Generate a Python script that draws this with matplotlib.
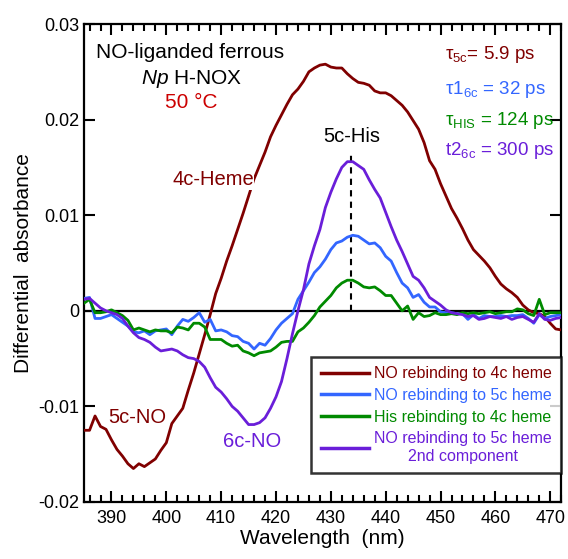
import matplotlib
matplotlib.use('Agg')
import matplotlib.pyplot as plt
import numpy as np
from matplotlib.ticker import MultipleLocator, FuncFormatter

plt.rcParams['font.family'] = 'Liberation Sans'
plt.rcParams['mathtext.fontset'] = 'custom'
plt.rcParams['mathtext.rm'] = 'Liberation Sans'
plt.rcParams['mathtext.it'] = 'Liberation Sans:italic'
plt.rcParams['axes.unicode_minus'] = False

# wavelength grid (nm), 1 nm steps
wl = np.arange(385, 473)

# NO rebinding to 4c heme
no_4c = [-0.0125, -0.0125, -0.0110, -0.0121, -0.0124, -0.0135, -0.0145, -0.0152,
         -0.0160, -0.0165, -0.0160, -0.0163, -0.0159, -0.0155, -0.0146, -0.0138,
         -0.0118, -0.0110, -0.0102, -0.0083, -0.0065, -0.0045, -0.0025, -0.0004,
         0.0018, 0.0034, 0.0052, 0.0068, 0.0085, 0.0102, 0.0120, 0.0138,
         0.0152, 0.0166, 0.0182, 0.0194, 0.0205, 0.0216, 0.0226, 0.0232,
         0.0240, 0.0250, 0.0254, 0.0257, 0.0258, 0.0255, 0.0254, 0.0254,
         0.0248, 0.0243, 0.0239, 0.0238, 0.0236, 0.0230, 0.0228, 0.0228,
         0.0225, 0.0220, 0.0215, 0.0208, 0.0199, 0.0190, 0.0176, 0.0157,
         0.0148, 0.0133, 0.0120, 0.0107, 0.0097, 0.0086, 0.0074, 0.0064,
         0.0058, 0.0052, 0.0045, 0.0036, 0.0028, 0.0023, 0.0019, 0.0014,
         0.0006, 0.0001, -0.0002, -0.0003, -0.0006, -0.0013, -0.0019, -0.0020]

# NO rebinding to 5c heme
no_5c = [0.0013, 0.0014, -0.0008, -0.0008, -0.0006, -0.0004, -0.0008, -0.0012,
         -0.0016, -0.0022, -0.0023, -0.0021, -0.0025, -0.0021, -0.0020, -0.0019,
         -0.0025, -0.0016, -0.0009, -0.0011, -0.0007, -0.0002, -0.0012, -0.0009,
         -0.0021, -0.0020, -0.0022, -0.0026, -0.0027, -0.0032, -0.0034, -0.0040,
         -0.0034, -0.0036, -0.0029, -0.0020, -0.0013, -0.0008, -0.0003, 0.0012,
         0.0021, 0.0030, 0.0040, 0.0046, 0.0054, 0.0064, 0.0071, 0.0073,
         0.0077, 0.0079, 0.0078, 0.0074, 0.0070, 0.0071, 0.0066, 0.0057,
         0.0052, 0.0040, 0.0029, 0.0024, 0.0014, 0.0017, 0.0009, 0.0004,
         0.0004, -0.0001, -0.0002, -0.0002, -0.0003, -0.0003, -0.0009, -0.0004,
         -0.0008, -0.0005, -0.0006, -0.0006, -0.0005, -0.0006, -0.0005, -0.0005,
         -0.0004, -0.0008, -0.0013, -0.0004, -0.0008, -0.0006, -0.0005, -0.0004]

# His rebinding to 4c heme
his_4c = [0.0008, 0.0012, -0.0002, -0.0002, -0.0001, 0.0001, -0.0002, -0.0005,
          -0.0010, -0.0020, -0.0018, -0.0020, -0.0022, -0.0020, -0.0021, -0.0021,
          -0.0023, -0.0017, -0.0018, -0.0020, -0.0013, -0.0013, -0.0017, -0.0030,
          -0.0030, -0.0030, -0.0034, -0.0037, -0.0036, -0.0042, -0.0044, -0.0047,
          -0.0044, -0.0043, -0.0042, -0.0038, -0.0033, -0.0032, -0.0032, -0.0022,
          -0.0018, -0.0012, -0.0005, 0.0004, 0.0010, 0.0016, 0.0024, 0.0029,
          0.0032, 0.0032, 0.0029, 0.0025, 0.0024, 0.0025, 0.0021, 0.0016,
          0.0016, 0.0008, 0.0000, 0.0005, -0.0009, -0.0002, -0.0006, -0.0005,
          -0.0002, -0.0004, -0.0004, -0.0003, -0.0004, -0.0002, -0.0003, -0.0002,
          -0.0003, -0.0002, -0.0001, -0.0003, -0.0002, -0.0001, -0.0001, 0.0002,
          0.0001, -0.0003, -0.0005, 0.0012, -0.0004, -0.0002, -0.0002, -0.0002]

# NO rebinding to 5c heme, 2nd component
no_5c_2 = [0.0012, 0.0013, 0.0008, 0.0003, 0.0000, -0.0002, -0.0004, -0.0008,
           -0.0016, -0.0023, -0.0028, -0.0030, -0.0033, -0.0038, -0.0042, -0.0041,
           -0.0040, -0.0042, -0.0046, -0.0049, -0.0050, -0.0053, -0.0059, -0.0070,
           -0.0080, -0.0085, -0.0092, -0.0100, -0.0105, -0.0112, -0.0119, -0.0119,
           -0.0117, -0.0112, -0.0102, -0.0090, -0.0074, -0.0050, -0.0024, 0.0000,
           0.0022, 0.0049, 0.0068, 0.0085, 0.0108, 0.0124, 0.0138, 0.0150,
           0.0156, 0.0156, 0.0152, 0.0148, 0.0137, 0.0127, 0.0118, 0.0103,
           0.0088, 0.0074, 0.0062, 0.0049, 0.0036, 0.0032, 0.0024, 0.0014,
           0.0010, 0.0006, 0.0001, -0.0002, -0.0003, -0.0004, -0.0006, -0.0005,
           -0.0009, -0.0008, -0.0006, -0.0007, -0.0008, -0.0006, -0.0009, -0.0007,
           -0.0006, -0.0009, -0.0012, -0.0003, -0.0009, -0.0010, -0.0008, -0.0007]

labels = ['NO rebinding to 4c heme', 'NO rebinding to 5c heme',
          'His rebinding to 4c heme', 'NO rebinding to 5c heme\n2nd component']
colors = ['#800000', '#3366ff', '#008a00', '#6a1ed9']

his_peak_wl = 433.7
his_peak_top = 0.0166

fig = plt.figure(figsize=(5.68, 5.59), dpi=100)
ax = fig.add_axes([0.148, 0.102, 0.840, 0.855])

ax.axhline(0, color='k', lw=1.6, zorder=1)
for ys, c, lab in zip([no_4c, no_5c, his_4c, no_5c_2], colors, labels):
    ax.plot(wl, ys, color=c, lw=2.0, label=lab, zorder=3)

ax.plot([his_peak_wl, his_peak_wl], [0, his_peak_top], 'k--', lw=1.5,
        dashes=(3, 2.5), zorder=2)

ax.set_xlim(385, 472)
ax.set_ylim(-0.02, 0.03)
ax.xaxis.set_major_locator(MultipleLocator(10))
ax.xaxis.set_minor_locator(MultipleLocator(2))
ax.yaxis.set_major_locator(MultipleLocator(0.01))
ax.yaxis.set_major_formatter(FuncFormatter(lambda v, p: '0' if abs(v) < 1e-9 else '%.2f' % v))

ax.tick_params(which='both', direction='in', top=True, right=True, width=1.5,
               labelsize=13)
ax.tick_params(which='major', length=8)
ax.tick_params(which='minor', length=5)
ax.tick_params(axis='x', pad=6)
for s in ax.spines.values():
    s.set_linewidth(1.6)

ax.set_xlabel('Wavelength  (nm)', fontsize=15, labelpad=1)
ax.set_ylabel('Differential  absorbance', fontsize=15, labelpad=4)

ax.text(404.3, 0.0270, 'NO-liganded ferrous', fontsize=15, ha='center', va='center')
ax.text(404.6, 0.0243, r'$\mathit{Np}$ H-NOX', fontsize=15, ha='center', va='center')
ax.text(404.6, 0.0218, '50 °C', fontsize=15, color='#cc0000', ha='center', va='center')

ax.text(408.5, 0.0137, '4c-Heme', fontsize=14.5, color=colors[0], ha='center',
        va='center', zorder=4,
        bbox=dict(facecolor='white', edgecolor='none', pad=0.1))
ax.text(433.9, 0.0182, '5c-His', fontsize=14.5, ha='center', va='center')
ax.text(394.7, -0.0112, '5c-NO', fontsize=14.5, color=colors[0], ha='center', va='center')
ax.text(415.6, -0.0137, '6c-NO', fontsize=14.5, color=colors[3], ha='center', va='center')

taus = [r'τ$_\mathrm{5c}$= 5.9 ps', r'τ1$_\mathrm{6c}$ = 32 ps',
        r'τ$_\mathrm{HIS}$ = 124 ps', r't2$_\mathrm{6c}$ = 300 ps']
tau_y = [0.0268, 0.0232, 0.0199, 0.0168]
for t, y, c in zip(taus, tau_y, colors):
    ax.text(450.8, y, t, fontsize=13.5, color=c, ha='left', va='center')

leg = ax.legend(loc='lower right', bbox_to_anchor=(1.0, 0.06), fontsize=11.5,
                frameon=True, fancybox=False, edgecolor='k', handlelength=3.0,
                handletextpad=0.3, borderpad=0.6, labelspacing=0.42,
                borderaxespad=0)
leg.get_frame().set_linewidth(1.8)
for txt, c in zip(leg.get_texts(), colors):
    txt.set_color(c)
    txt.set_multialignment('center')
for ln in leg.get_lines():
    ln.set_linewidth(2.5)

plt.savefig('out.png', dpi=100)
